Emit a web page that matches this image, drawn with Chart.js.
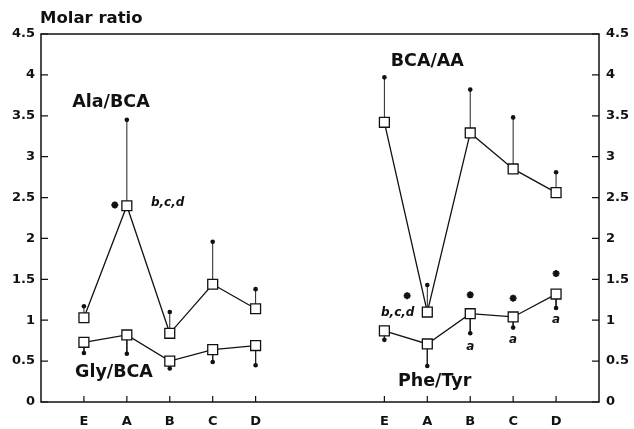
<!DOCTYPE html>
<html>
<head>
<meta charset="utf-8">
<script src="https://cdn.jsdelivr.net/npm/chart.js@4.4.1/dist/chart.umd.min.js"></script>
<style>
  html, body { margin: 0; padding: 0; background: #fff; }
</style>
</head>
<body>
<canvas id="chart" width="634" height="429"></canvas>
<script>
// categories and where each group sits on the x axis
const groups = ['E', 'A', 'B', 'C', 'D'];
const leftX = [1, 2, 3, 4, 5];
const rightX = [8, 9, 10, 11, 12];
const yTicks = [0, 0.5, 1, 1.5, 2, 2.5, 3, 3.5, 4, 4.5];

// means and the end of each error bar
const alaBca = [1.03, 2.40, 0.84, 1.44, 1.14];
const alaBcaErr = [1.17, 3.45, 1.10, 1.96, 1.38];
const glyBca = [0.73, 0.82, 0.50, 0.64, 0.69];
const glyBcaErr = [0.60, 0.59, 0.41, 0.49, 0.45];
const bcaAa = [3.42, 1.10, 3.29, 2.85, 2.56];
const bcaAaErr = [3.97, 1.43, 3.82, 3.48, 2.81];
const pheTyr = [0.87, 0.71, 1.08, 1.04, 1.32];
const pheTyrErr = [0.76, 0.44, 0.84, 0.91, 1.15];

// significance marks (x, y in axis units)
const starX = [1.72, 8.53, 10, 11, 12];
const starY = [2.41, 1.30, 1.31, 1.27, 1.57];

// text notes: text, x, y
const seriesNames = [['Ala/BCA', 1.63, 3.66], ['Gly/BCA', 1.70, 0.36], ['BCA/AA', 9.0, 4.16], ['Phe/Tyr', 9.17, 0.25]];
const letterNotes = [['b,c,d', 2.95, 2.43], ['b,c,d', 8.31, 1.09], ['a', 10, 0.68], ['a', 11, 0.76], ['a', 12, 1.00]];

const FONT = '"DejaVu Sans", sans-serif';

function pts(xs, ys) {
    return xs.map((x, i) => ({x: x, y: ys[i]}));
}

// one dataset per series holding all its error stems, broken by gaps
function errPts(xs, means, ends) {
    const out = [];
    xs.forEach((x, i) => {
        out.push({x: x, y: means[i]});
        out.push({x: x, y: ends[i]});
        out.push({x: x, y: null});
    });
    return out;
}

function series(label, data) {
    return {
        label: label,
        data: data,
        borderColor: '#111',
        borderWidth: 1.3,
        pointStyle: 'rect',
        pointRadius: 7,
        pointBackgroundColor: '#fff',
        pointBorderColor: '#111',
        pointBorderWidth: 1.3,
        tension: 0
    };
}

function errSeries(data) {
    return {
        data: data,
        borderColor: '#222',
        borderWidth: 1,
        spanGaps: false,
        pointRadius: c => (c.dataIndex % 3 === 1 ? 2.3 : 0),
        pointBackgroundColor: '#111',
        pointBorderColor: '#111',
        pointBorderWidth: 0,
        tension: 0
    };
}

const decor = {
    id: 'decor',
    afterDraw(chart) {
        const {ctx, chartArea: a, scales} = chart;
        ctx.save();
        ctx.strokeStyle = '#111';
        ctx.lineWidth = 1.5;
        ctx.strokeRect(a.left, a.top, a.right - a.left, a.bottom - a.top);
        ctx.lineWidth = 1.2;
        ctx.beginPath();
        yTicks.forEach(v => {
            const y = scales.y.getPixelForValue(v);
            ctx.moveTo(a.left, y); ctx.lineTo(a.left + 7, y);
            ctx.moveTo(a.right, y); ctx.lineTo(a.right - 7, y);
        });
        leftX.concat(rightX).forEach(v => {
            const x = scales.x.getPixelForValue(v);
            ctx.moveTo(x, a.bottom); ctx.lineTo(x, a.bottom - 6);
        });
        ctx.stroke();

        ctx.fillStyle = '#111';
        ctx.textBaseline = 'middle';
        ctx.textAlign = 'left';
        ctx.font = 'bold 16.5px ' + FONT;
        ctx.fillText('Molar ratio', a.left - 1, 19);

        ctx.textAlign = 'center';
        ctx.font = 'bold 17.5px ' + FONT;
        seriesNames.forEach(([t, x, y]) => {
            ctx.fillText(t, scales.x.getPixelForValue(x), scales.y.getPixelForValue(y));
        });
        ctx.font = 'italic bold 12px ' + FONT;
        letterNotes.forEach(([t, x, y]) => {
            ctx.fillText(t, scales.x.getPixelForValue(x), scales.y.getPixelForValue(y));
        });
        ctx.restore();
    }
};

const tickFont = {family: FONT, size: 13, weight: 'bold'};
const yLabel = v => String(+Number(v).toFixed(1));

new Chart(document.getElementById('chart'), {
    type: 'line',
    data: {
        datasets: [
            series('Ala/BCA', pts(leftX, alaBca)),
            series('Gly/BCA', pts(leftX, glyBca)),
            series('BCA/AA', pts(rightX, bcaAa)),
            series('Phe/Tyr', pts(rightX, pheTyr)),
            errSeries(errPts(leftX, alaBca, alaBcaErr)),
            errSeries(errPts(leftX, glyBca, glyBcaErr)),
            errSeries(errPts(rightX, bcaAa, bcaAaErr)),
            errSeries(errPts(rightX, pheTyr, pheTyrErr)),
            {
                data: pts(starX, starY),
                showLine: false,
                pointStyle: 'star',
                pointRadius: 3.5,
                pointBorderWidth: 2,
                pointBorderColor: '#111',
                pointBackgroundColor: '#111'
            }
        ]
    },
    options: {
        responsive: false,
        animation: false,
        events: [],
        layout: {padding: {top: 34, left: 0, right: 0, bottom: 0}},
        plugins: {legend: {display: false}, tooltip: {enabled: false}},
        scales: {
            x: {
                type: 'linear',
                min: 0,
                max: 13,
                grid: {display: false, drawTicks: false},
                border: {display: false},
                afterBuildTicks: s => { s.ticks = leftX.concat(rightX).map(v => ({value: v})); },
                afterFit: s => { s.height = 27; },
                ticks: {
                    autoSkip: false,
                    maxRotation: 0,
                    padding: 12,
                    color: '#111',
                    font: tickFont,
                    callback: v => groups[(v >= 8 ? v - 8 : v - 1)]
                }
            },
            y: {
                position: 'left',
                min: 0,
                max: 4.5,
                grid: {display: false, drawTicks: false},
                border: {display: false},
                afterFit: s => { s.width = 41; },
                ticks: {stepSize: 0.5, padding: 6, color: '#111', font: tickFont, callback: yLabel}
            },
            y2: {
                position: 'right',
                min: 0,
                max: 4.5,
                grid: {display: false, drawTicks: false},
                border: {display: false},
                afterFit: s => { s.width = 35; },
                ticks: {stepSize: 0.5, padding: 7, color: '#111', font: tickFont, callback: yLabel}
            }
        }
    },
    plugins: [decor]
});
</script>
</body>
</html>
